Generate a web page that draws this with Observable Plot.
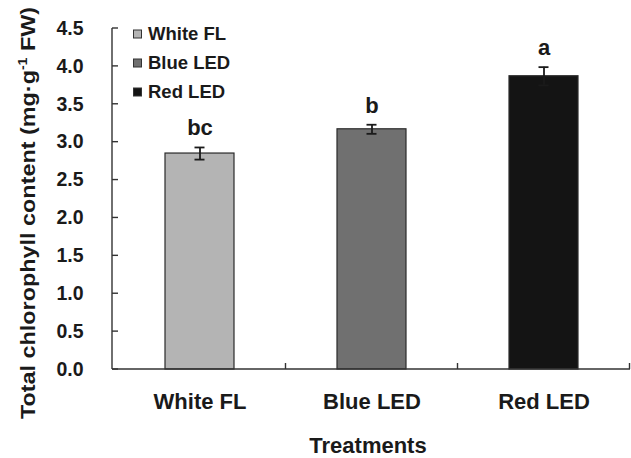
<!DOCTYPE html>
<html>
<head>
<meta charset="utf-8">
<script src="https://cdn.jsdelivr.net/npm/d3@7"></script>
<script src="https://cdn.jsdelivr.net/npm/@observablehq/plot@0.6"></script>
<style>
  html, body { margin: 0; padding: 0; background: #ffffff; }
  #chart svg { display: block; }
</style>
</head>
<body>
<div id="chart"></div>
<script>
const treatments = ["White FL", "Blue LED", "Red LED"];
const means = [2.85, 3.17, 3.87];
const errors = [0.08, 0.06, 0.12];
const letters = ["bc", "b", "a"];
const colors = ["#b4b4b4", "#707070", "#141414"];
const yTicks = [0, 0.5, 1.0, 1.5, 2.0, 2.5, 3.0, 3.5, 4.0, 4.5];

const data = treatments.map((t, i) => ({
  treatment: t, mean: means[i], err: errors[i], letter: letters[i], color: colors[i]
}));

const font = "'Liberation Sans', Arial, Helvetica, sans-serif";
const ink = "#1a1a1a";

const chart = Plot.plot({
  width: 631,
  height: 458,
  marginLeft: 112,
  marginRight: 1,
  marginTop: 28,
  marginBottom: 89,
  style: { fontFamily: font, background: "#ffffff", color: ink },
  x: { domain: treatments, paddingInner: 0.6, paddingOuter: 0.3, label: null },
  y: { domain: [0, 4.5], label: null },
  marks: [
    Plot.barY(data, { x: "treatment", y: "mean", fill: "color", stroke: "#2a2a2a", strokeWidth: 1.2 }),
    Plot.ruleX(data, { x: "treatment", y1: d => d.mean - d.err, y2: d => d.mean + d.err, stroke: ink, strokeWidth: 1.8 }),
    Plot.tickY(data, { x: "treatment", y: d => d.mean + d.err, stroke: ink, strokeWidth: 1.8, insetLeft: 29.5, insetRight: 29.5 }),
    Plot.tickY(data, { x: "treatment", y: d => d.mean - d.err, stroke: ink, strokeWidth: 1.8, insetLeft: 29.5, insetRight: 29.5 }),
    Plot.text(data, { x: "treatment", y: d => d.mean + d.err, text: "letter", lineAnchor: "bottom", dy: -12, fontSize: 22, fontWeight: "bold", fill: ink }),
    Plot.axisY({ ticks: yTicks, tickFormat: d => d.toFixed(1), tickSize: 0, tickPadding: 29, fontSize: 19.5, fontWeight: "bold", label: null, fill: ink }),
    Plot.axisX({ tickSize: 0, tickPadding: 24, fontSize: 22, fontWeight: "bold", label: null, fill: ink })
  ]
});

document.getElementById("chart").appendChild(chart);

const svg = d3.select(chart);
const xs = chart.scale("x");
const ys = chart.scale("y");

// axis lines and inward ticks
const g = svg.append("g").attr("stroke", "#333").attr("stroke-width", 1.4).attr("fill", "none");
const x0 = xs.range[0];
const x1 = xs.range[1];
const yb = ys.apply(0);
const yTop = ys.apply(4.5);
g.append("line").attr("x1", x0).attr("x2", x0).attr("y1", yTop).attr("y2", yb);
g.append("line").attr("x1", x0).attr("x2", x1).attr("y1", yb).attr("y2", yb);
yTicks.forEach(v => {
  const y = ys.apply(v);
  g.append("line").attr("x1", x0).attr("x2", x0 + 6).attr("y1", y).attr("y2", y);
});
treatments.forEach(t => {
  const xb = xs.apply(t) + xs.bandwidth + (xs.step - xs.bandwidth) / 2;
  g.append("line").attr("x1", xb).attr("x2", xb).attr("y1", yb).attr("y2", yb - 6);
});

// legend
const legend = svg.append("g").attr("font-family", font).attr("font-weight", "bold")
  .attr("font-size", 18.5).attr("fill", ink).attr("text-anchor", "start");
const legendRows = [34, 63, 92];
treatments.forEach((t, i) => {
  legend.append("rect").attr("x", 133.5).attr("y", legendRows[i] - 4).attr("width", 8).attr("height", 8)
    .attr("fill", colors[i]).attr("stroke", "#333").attr("stroke-width", 1);
  legend.append("text").attr("x", 148).attr("y", legendRows[i]).attr("dy", "0.35em").text(t);
});

// axis titles
svg.append("text")
  .attr("x", 368).attr("y", 445).attr("dy", "0.35em")
  .attr("text-anchor", "middle").attr("font-family", font).attr("font-weight", "bold")
  .attr("font-size", 22).attr("fill", ink).text("Treatments");

const yt = svg.append("text")
  .attr("transform", "translate(28,213) rotate(-90) scale(1.17,1)")
  .attr("dy", "0.35em")
  .attr("text-anchor", "middle").attr("font-family", font).attr("font-weight", "bold")
  .attr("font-size", 20).attr("fill", ink);
yt.append("tspan").text("Total chlorophyll content (mg·g");
yt.append("tspan").attr("font-size", 12).attr("dy", "-0.7em").text("-1");
yt.append("tspan").attr("dy", "0.42em").text(" FW)");
</script>
</body>
</html>
